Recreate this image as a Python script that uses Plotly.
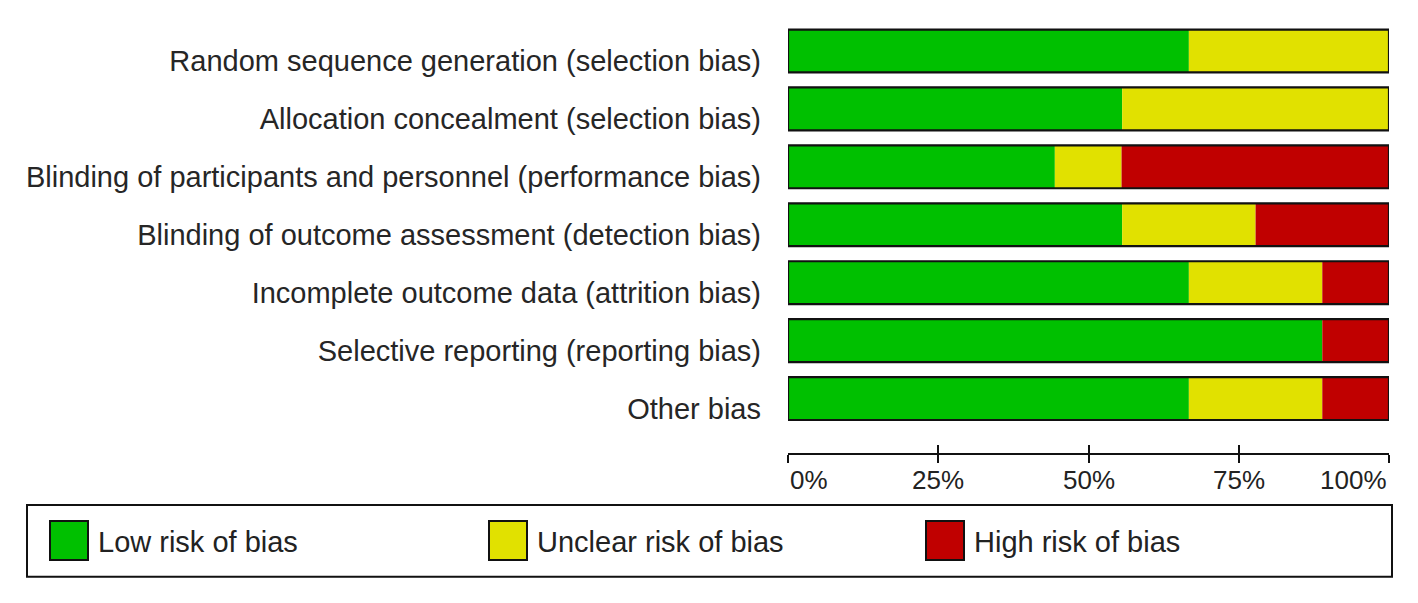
import plotly.graph_objects as go

# ---- data ----
domains = [
    "Random sequence generation (selection bias)",
    "Allocation concealment (selection bias)",
    "Blinding of participants and personnel (performance bias)",
    "Blinding of outcome assessment (detection bias)",
    "Incomplete outcome data (attrition bias)",
    "Selective reporting (reporting bias)",
    "Other bias",
]
low_risk = [66.7, 55.6, 44.4, 55.6, 66.7, 88.9, 66.7]
unclear_risk = [33.3, 44.4, 11.1, 22.2, 22.2, 0.0, 22.2]
high_risk = [0.0, 0.0, 44.4, 22.2, 11.1, 11.1, 11.1]
series_names = ["Low risk of bias", "Unclear risk of bias", "High risk of bias"]
series_colors = ["#00C000", "#E1E100", "#C00000"]
tick_vals = [0, 25, 50, 75, 100]
tick_labels = ["0%", "25%", "50%", "75%", "100%"]

# ---- layout geometry (screen pixels; page body has an 8px margin) ----
OFF = 8
W, H = 1418 - 2 * OFF, 603 - 2 * OFF
L = 788 - OFF
R = W - (1389 - OFF)
T = 21.5 - OFF
B = H - (453 - OFF)
pw, ph = W - L - R, H - T - B


def px_x(x):
    return (x - OFF - L) / pw


def px_y(y):
    return (H - B - (y - OFF)) / ph


ypos = list(range(len(domains)))
fig = go.Figure()

series = [low_risk, unclear_risk, high_risk]
base = [0.0] * len(domains)
for name, vals, col in zip(series_names, series, series_colors):
    fig.add_trace(go.Bar(
        y=ypos, x=vals, base=list(base), orientation="h", name=name,
        marker=dict(color=col, line=dict(width=0)), width=0.74,
        showlegend=False, hoverinfo="skip",
    ))
    base = [b + v for b, v in zip(base, vals)]

# outer outline of each bar
totals = [round(b) for b in base]
fig.add_trace(go.Bar(
    y=ypos, x=totals, base=[0] * len(domains), orientation="h",
    marker=dict(color="rgba(0,0,0,0)", line=dict(color="#111", width=2.2)),
    width=0.74, showlegend=False, hoverinfo="skip", xaxis="x2",
))

font_main = "Liberation Sans, Arial, sans-serif"

fig.update_layout(
    width=W, height=H,
    margin=dict(l=L, r=R, t=T, b=B, pad=0),
    paper_bgcolor="white", plot_bgcolor="white",
    barmode="overlay",
    showlegend=False,
    xaxis=dict(
        range=[0, 100], tickvals=tick_vals, showticklabels=False,
        ticks="outside", ticklen=8, tickwidth=2, tickcolor="#111",
        showline=True, linecolor="#111", linewidth=2, showgrid=False,
        zeroline=False, fixedrange=True,
    ),
    xaxis2=dict(
        range=[0, 100], tickvals=tick_vals, showticklabels=False,
        overlaying="x", anchor="y", side="bottom",
        ticks="inside", ticklen=8, tickwidth=2, tickcolor="#111",
        showline=False, showgrid=False, zeroline=False, fixedrange=True,
    ),
    yaxis=dict(
        range=[len(domains) - 0.06, -0.5], tickvals=ypos, ticktext=domains,
        showgrid=False, zeroline=False, showline=False, ticks="",
        ticklabelstandoff=26, ticklabelshift=-10,
        tickfont=dict(family=font_main, size=29, color="#262626"),
        fixedrange=True,
    ),
)

# x tick labels (first left-aligned, last right-aligned, like RevMan)
for i, (v, t) in enumerate(zip(tick_vals, tick_labels)):
    anchor = "left" if i == 0 else ("right" if i == len(tick_vals) - 1 else "center")
    fig.add_annotation(
        x=v, y=0, xref="x", yref="paper", text=t, showarrow=False,
        xanchor=anchor, yanchor="middle", yshift=-27,
        font=dict(family=font_main, size=26, color="#222"),
    )

# legend box
fig.add_shape(type="rect", xref="paper", yref="paper",
              x0=px_x(27), x1=px_x(1392), y0=px_y(577), y1=px_y(505),
              line=dict(color="#111", width=2), fillcolor="white", layer="below")
item_x = [50, 489, 926]
for xs, name, col in zip(item_x, series_names, series_colors):
    fig.add_shape(type="rect", xref="paper", yref="paper",
                  x0=px_x(xs), x1=px_x(xs + 38), y0=px_y(560), y1=px_y(521),
                  line=dict(color="#111", width=2), fillcolor=col)
    fig.add_annotation(x=px_x(xs + 46), y=px_y(542), xref="paper", yref="paper",
                       text=name, showarrow=False, xanchor="left", yanchor="middle",
                       font=dict(family=font_main, size=29, color="#222"))

fig.write_html("out.html")
